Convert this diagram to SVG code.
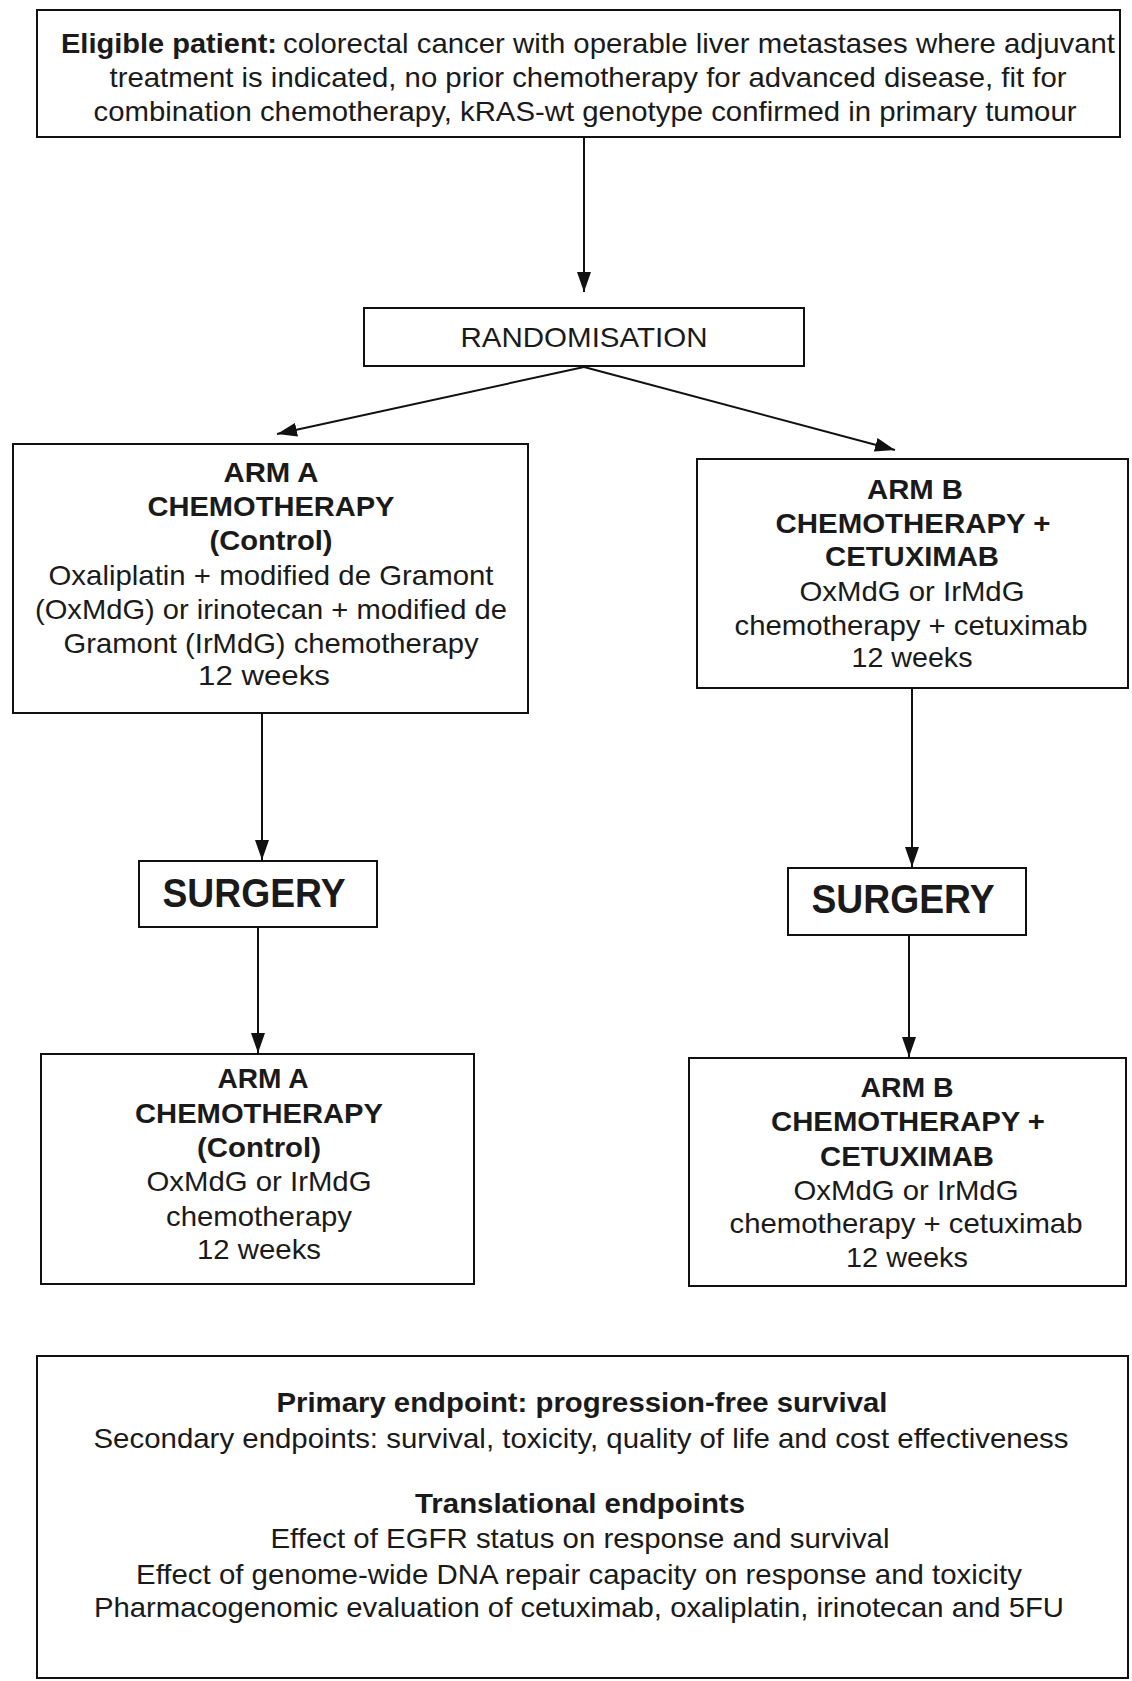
<svg xmlns="http://www.w3.org/2000/svg" width="1132" height="1681" viewBox="0 0 1132 1681">
<style>
.box{fill:#fff;stroke:#111;stroke-width:2}
text{font-family:"Liberation Sans",Arial,sans-serif;font-size:28px;fill:#1a1a1a}
.c{text-anchor:middle}
.b{font-weight:bold}
.s{font-size:40px;font-weight:bold}
.con line{stroke:#111;stroke-width:2;marker-end:url(#ah)}
</style>
<defs>
<marker id="ah" viewBox="0 0 20 14" refX="20" refY="7" markerWidth="20" markerHeight="14" markerUnits="userSpaceOnUse" orient="auto">
<path d="M0,0 L20,7 L0,14 z" fill="#111"/>
</marker>
</defs>
<rect width="1132" height="1681" fill="#fff"/>
<g id="eligible">
<rect class="box" x="37" y="10" width="1083" height="127"/>
<text class="b" x="61" y="53" textLength="216" lengthAdjust="spacingAndGlyphs">Eligible patient:</text>
<text x="283" y="53" textLength="832" lengthAdjust="spacingAndGlyphs">colorectal cancer with operable liver metastases where adjuvant</text>
<text class="c" x="588" y="87" textLength="957" lengthAdjust="spacingAndGlyphs">treatment is indicated, no prior chemotherapy for advanced disease, fit for</text>
<text class="c" x="585" y="121" textLength="983" lengthAdjust="spacingAndGlyphs">combination chemotherapy, kRAS-wt genotype confirmed in primary tumour</text>
</g>
<g id="randomisation">
<rect class="box" x="364" y="308" width="440" height="58"/>
<text class="c" x="584" y="347" textLength="247" lengthAdjust="spacingAndGlyphs">RANDOMISATION</text>
</g>
<g id="armA1">
<rect class="box" x="13" y="444" width="515" height="269"/>
<text class="c b" x="271" y="482" textLength="95" lengthAdjust="spacingAndGlyphs">ARM A</text>
<text class="c b" x="271" y="516" textLength="247" lengthAdjust="spacingAndGlyphs">CHEMOTHERAPY</text>
<text class="c b" x="271" y="550" textLength="123" lengthAdjust="spacingAndGlyphs">(Control)</text>
<text class="c" x="271" y="585" textLength="445" lengthAdjust="spacingAndGlyphs">Oxaliplatin + modified de Gramont</text>
<text class="c" x="271" y="619" textLength="472" lengthAdjust="spacingAndGlyphs">(OxMdG) or irinotecan + modified de</text>
<text class="c" x="271" y="653" textLength="415" lengthAdjust="spacingAndGlyphs">Gramont (IrMdG) chemotherapy</text>
<text class="c" x="264" y="685" textLength="132" lengthAdjust="spacingAndGlyphs">12 weeks</text>
</g>
<g id="armB1">
<rect class="box" x="697" y="459" width="431" height="229"/>
<text class="c b" x="915" y="499" textLength="96" lengthAdjust="spacingAndGlyphs">ARM B</text>
<text class="c b" x="913" y="533" textLength="275" lengthAdjust="spacingAndGlyphs">CHEMOTHERAPY +</text>
<text class="c b" x="912" y="566" textLength="174" lengthAdjust="spacingAndGlyphs">CETUXIMAB</text>
<text class="c" x="912" y="601" textLength="225" lengthAdjust="spacingAndGlyphs">OxMdG or IrMdG</text>
<text class="c" x="911" y="635" textLength="353" lengthAdjust="spacingAndGlyphs">chemotherapy + cetuximab</text>
<text class="c" x="912" y="667" textLength="121" lengthAdjust="spacingAndGlyphs">12 weeks</text>
</g>
<g id="surgeryA">
<rect class="box" x="139" y="861" width="238" height="66"/>
<text class="c s" x="254" y="907" textLength="183" lengthAdjust="spacingAndGlyphs">SURGERY</text>
</g>
<g id="surgeryB">
<rect class="box" x="788" y="868" width="238" height="67"/>
<text class="c s" x="903" y="913" textLength="183" lengthAdjust="spacingAndGlyphs">SURGERY</text>
</g>
<g id="armA2">
<rect class="box" x="41" y="1054" width="433" height="230"/>
<text class="c b" x="263" y="1088" textLength="91" lengthAdjust="spacingAndGlyphs">ARM A</text>
<text class="c b" x="259" y="1123" textLength="248" lengthAdjust="spacingAndGlyphs">CHEMOTHERAPY</text>
<text class="c b" x="259" y="1157" textLength="124" lengthAdjust="spacingAndGlyphs">(Control)</text>
<text class="c" x="259" y="1191" textLength="225" lengthAdjust="spacingAndGlyphs">OxMdG or IrMdG</text>
<text class="c" x="259" y="1226" textLength="186" lengthAdjust="spacingAndGlyphs">chemotherapy</text>
<text class="c" x="259" y="1259" textLength="124" lengthAdjust="spacingAndGlyphs">12 weeks</text>
</g>
<g id="armB2">
<rect class="box" x="689" y="1058" width="437" height="228"/>
<text class="c b" x="907" y="1097" textLength="93" lengthAdjust="spacingAndGlyphs">ARM B</text>
<text class="c b" x="908" y="1131" textLength="274" lengthAdjust="spacingAndGlyphs">CHEMOTHERAPY +</text>
<text class="c b" x="907" y="1166" textLength="174" lengthAdjust="spacingAndGlyphs">CETUXIMAB</text>
<text class="c" x="906" y="1200" textLength="225" lengthAdjust="spacingAndGlyphs">OxMdG or IrMdG</text>
<text class="c" x="906" y="1233" textLength="353" lengthAdjust="spacingAndGlyphs">chemotherapy + cetuximab</text>
<text class="c" x="907" y="1267" textLength="122" lengthAdjust="spacingAndGlyphs">12 weeks</text>
</g>
<g id="endpoints">
<rect class="box" x="37" y="1356" width="1091" height="322"/>
<text class="c b" x="582" y="1412" textLength="611" lengthAdjust="spacingAndGlyphs">Primary endpoint: progression-free survival</text>
<text class="c" x="581" y="1448" textLength="975" lengthAdjust="spacingAndGlyphs">Secondary endpoints: survival, toxicity, quality of life and cost effectiveness</text>
<text class="c b" x="580" y="1513" textLength="330" lengthAdjust="spacingAndGlyphs">Translational endpoints</text>
<text class="c" x="580" y="1548" textLength="619" lengthAdjust="spacingAndGlyphs">Effect of EGFR status on response and survival</text>
<text class="c" x="579" y="1584" textLength="886" lengthAdjust="spacingAndGlyphs">Effect of genome-wide DNA repair capacity on response and toxicity</text>
<text class="c" x="579" y="1617" textLength="970" lengthAdjust="spacingAndGlyphs">Pharmacogenomic evaluation of cetuximab, oxaliplatin, irinotecan and 5FU</text>
</g>
<g id="connectors" class="con">
<line x1="584" y1="137" x2="584" y2="292"/>
<line x1="584" y1="367" x2="277" y2="434"/>
<line x1="584" y1="367" x2="895" y2="450"/>
<line x1="262" y1="713" x2="262" y2="860"/>
<line x1="258" y1="927" x2="258" y2="1053"/>
<line x1="912" y1="688" x2="912" y2="867"/>
<line x1="909" y1="935" x2="909" y2="1057"/>
</g>
</svg>
